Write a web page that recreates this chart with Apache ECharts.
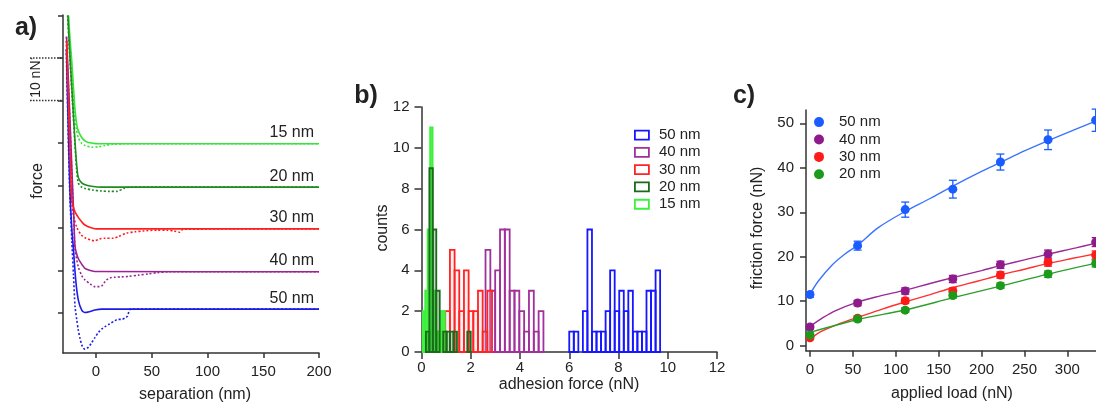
<!DOCTYPE html>
<html><head><meta charset="utf-8">
<script src="https://cdn.jsdelivr.net/npm/echarts@6/dist/echarts.min.js"></script>
<style>html,body{margin:0;padding:0;background:#fff}#c{width:1096px;height:405px}</style>
</head><body><div id="c"></div>
<script>
// ---------- Panel a: force curves (separation nm, force nN offset) ----------
const sepTicks = [0, 50, 100, 150, 200];
const forceTicks = [0, 10, 20, 30, 40, 50, 60, 70];
const curveNames = ['15 nm', '20 nm', '30 nm', '40 nm', '50 nm'];
const curveBaselines = [39.8, 29.6, 19.8, 9.7, 0.9];
const a15Approach = [[-24.6,70],[-23.2,64],[-21.8,59.5],[-20.2,53],[-18.8,47.8],[-17.2,44.2],[-15.5,42.6],[-12.8,41.3],[-9.9,40.5],[-6.9,40.1],[-2,39.9],[2,39.8],[200,39.8]];
const a15Retract = [[-25.0,70],[-23.6,64],[-22.2,59],[-20.6,52.5],[-19.2,47],[-17.5,43.2],[-15.9,41.2],[-12.8,39.9],[-9.9,39.4],[-3.9,39.0],[2.1,39.1],[8.1,39.4],[15,39.7],[25,39.8],[200,39.8]];
const a20Approach = [[-25.2,70],[-23.3,60],[-21,50],[-19,41],[-17.2,34.5],[-15.9,31.9],[-12.8,30.6],[-9,30.1],[-4,29.8],[5,29.6],[200,29.6]];
const a20Retract = [[-25.5,70],[-23.5,60],[-21.2,50],[-19.2,41],[-17.5,34],[-15.9,30.6],[-12.8,29.6],[-9.9,29.3],[-2.7,28.9],[5,28.7],[12,28.6],[18.8,28.6],[25,29.3],[30,29.6],[200,29.6]];
const a30Approach = [[-26.4,64],[-25,52],[-23.3,38],[-21.8,27],[-19.5,24.2],[-15.9,22.5],[-12,21.2],[-9.9,20.7],[-5,20.1],[0,19.8],[200,19.8]];
const a30Retract = [[-26.6,64],[-25.2,52],[-23.5,38],[-22,27],[-19.8,22.5],[-17,20],[-13,18.3],[-9,17.6],[-4,17.1],[-1,17.0],[3,17.4],[8,17.6],[15.5,17.6],[20,18],[27.5,18.8],[35,19.1],[42.4,19.3],[55,19.5],[63.4,19.5],[70,19.3],[75,19.0],[78,19.7],[200,19.8]];
const a40Approach = [[-26.4,65],[-24,50],[-21.5,33],[-19.8,22],[-18.8,15.6],[-16.5,13.2],[-14.3,12.1],[-9.9,10.5],[-5,10],[-0.9,9.75],[200,9.7]];
const a40Retract = [[-26.6,65],[-24.2,50],[-21.7,33],[-20,22],[-18.8,15],[-16,11],[-12.8,8.8],[-9.9,7.8],[-5,6.8],[-0.9,6.2],[3,6.2],[5.1,6.35],[7.5,7.2],[9.6,7.8],[13,8.3],[17,8.4],[23,8.5],[29,8.6],[38,8.9],[47,9.2],[55,9.5],[65,9.7],[200,9.7]];
const a50Approach = [[-26.5,62],[-25,45],[-23.3,28.2],[-21.5,19],[-20.4,15.6],[-18.2,7.8],[-15.9,3.1],[-12.8,0.7],[-9.9,0.1],[-6,0.3],[-0.9,0.7],[5,0.9],[200,0.9]];
const a50Retract = [[-26.7,62],[-25.2,45],[-23.5,28],[-21.7,17],[-20.2,9],[-18.8,1.5],[-17.3,-1.5],[-15.9,-4],[-14.3,-6],[-12.8,-7.5],[-11.3,-8.3],[-9.9,-8.5],[-7,-8.1],[-3.9,-7.0],[-1,-5.8],[2.1,-4.6],[5,-3.8],[8.1,-3.2],[12,-2.6],[17,-1.8],[20,-1.5],[23,-1.5],[26,-1.2],[28,-0.8],[29.5,0.3],[31,0.9],[200,0.9]];

// ---------- Panel b: adhesion histograms (bin start, bin width, counts) ----------
const histLabels = ['50 nm', '40 nm', '30 nm', '20 nm', '15 nm'];
const hist50 = { start: 6.0, width: 0.1845, counts: [1,1,0,2,6,1,1,1,2,4,2,3,2,3,1,1,1,3,3,4] };
const hist40 = { start: 2.6, width: 0.196, counts: [5,3,4,6,6,3,3,2,1,3,1,2] };
const hist30 = { start: 0.584, width: 0.19, counts: [1,1,2,5,4,2,4,2,2,3,1,3] };
const hist20 = { start: 0.18, width: 0.14, counts: [1,9,6,3,0,1,1,1,1,0,0,0,1] };
const hist15 = { start: 0.05, width: 0.1, counts: [2,3,6,11,3,1,1,2,2] };
const adhTicks = [0, 2, 4, 6, 8, 10, 12];

// ---------- Panel c: friction vs load ----------
const loads = [0, 55.5, 111, 166.5, 222, 277.5, 333];
const fric50 = [11.5, 22.5, 30.6, 35.2, 41.3, 46.3, 50.7];
const err50 = [0.6, 1.0, 1.7, 2.0, 1.8, 2.2, 2.5];
const fric40 = [4.2, 9.6, 12.3, 15.0, 18.2, 20.6, 23.3];
const err40 = [0.5, 0.6, 0.7, 0.8, 0.8, 0.9, 1.0];
const fric30 = [1.8, 6.2, 10.1, 12.3, 15.9, 18.7, 20.4];
const err30 = [0.4, 0.5, 0.6, 0.7, 0.7, 0.8, 0.9];
const fric20 = [2.4, 6.0, 8.0, 11.3, 13.5, 16.1, 18.5];
const err20 = [0.4, 0.5, 0.5, 0.6, 0.6, 0.7, 0.8];
const fit50 = [[0,11.6],[10,14.6],[25,18.0],[40,20.5],[55.5,22.6],[80,26.6],[111,30.2],[140,33.1],[166.5,35.9],[200,39.2],[222,41.2],[250,43.8],[277.5,46.1],[310,48.7],[334,50.6]];
const fit40 = [[0,4.3],[15,6.3],[30,7.9],[55.5,9.8],[80,11.1],[111,12.5],[140,14.0],[166.5,15.3],[200,16.9],[222,18.0],[250,19.3],[277.5,20.6],[310,22.0],[334,23.1]];
const fit30 = [[0,1.4],[12,3.1],[35,5.0],[56,6.4],[85,8.3],[112,9.9],[140,11.5],[167,13.1],[195,14.5],[222,15.9],[250,17.2],[277.5,18.5],[305,19.6],[334,20.7]];
const fit20 = [[0,3.0],[56,5.9],[112,8.1],[167,10.8],[222,13.4],[277.5,16.1],[334,18.6]];
const loadTicks = [0, 50, 100, 150, 200, 250, 300];
const fricTicks = [0, 10, 20, 30, 40, 50];

const FONT = 'Liberation Sans, Arial, sans-serif';
const TXT = '#222';
const AX = '#333';

const colA = { c15: '#3ae23a', c20: '#1f8a1f', c30: '#ff1f1f', c40: '#9a2592', c50: '#1c1ce8' };
const colB = { b50: '#1616ff', b40: '#a0309c', b30: '#ff2424', b20: '#1a6a1a', b15: '#3cf03c' };
const fillB = { b50: 'rgba(255,255,255,0)', b40: 'rgba(255,255,255,0)', b30: 'rgba(255,200,200,0.25)', b20: 'rgba(26,106,26,0.25)', b15: 'rgba(60,240,60,0.85)' };
const colC = { c50: '#1a5cff', c40: '#8e1a8c', c30: '#ff1a1a', c20: '#1c9a1c' };
const lineC = { c50: '#3a74ff', c40: '#9a2a98', c30: '#ff3030', c20: '#2aa02a' };

function axisBase(extra) {
  return Object.assign({
    type: 'value',
    splitLine: { show: false },
    axisLine: { show: true, onZero: false, lineStyle: { color: AX, width: 1.5 } },
    axisTick: { show: true, inside: false, length: 6, lineStyle: { color: AX, width: 1.5 } },
    axisLabel: { color: TXT, fontSize: 15, fontFamily: FONT }
  }, extra);
}

function lineSeries(name, data, color, dotted) {
  return {
    type: 'line', name: name, xAxisIndex: 0, yAxisIndex: 0, data: data,
    showSymbol: false, symbol: 'none', smooth: 0.25, silent: true,
    lineStyle: { color: color, width: 1.6, type: dotted ? [2, 2] : 'solid' },
    z: dotted ? 3 : 4
  };
}

function histData(h) {
  const out = [];
  h.counts.forEach((c, i) => { if (c > 0) out.push([h.start + i * h.width, h.start + (i + 1) * h.width, c]); });
  return out;
}
function histSeries(name, h, color, fill, z) {
  return {
    type: 'custom', name: name, xAxisIndex: 1, yAxisIndex: 1, data: histData(h), z: z,
    itemStyle: { color: 'transparent', borderColor: color, borderWidth: 1.8 },
    renderItem: function (params, api) {
      const p0 = api.coord([api.value(0), 0]);
      const p1 = api.coord([api.value(1), api.value(2)]);
      return { type: 'rect', shape: { x: p0[0], y: p1[1], width: p1[0] - p0[0], height: p0[1] - p1[1] },
        style: { fill: fill, stroke: color, lineWidth: 1.8 } };
    }
  };
}

function errSeries(name, ys, errs, color) {
  return {
    type: 'custom', name: name + 'err', xAxisIndex: 2, yAxisIndex: 2, z: 5, silent: true,
    data: loads.map((x, i) => [x, ys[i], errs[i]]),
    renderItem: function (params, api) {
      const x = api.value(0), y = api.value(1), e = api.value(2);
      const hi = api.coord([x, y + e]), lo = api.coord([x, y - e]);
      const w = 4;
      return { type: 'group', children: [
        { type: 'line', shape: { x1: hi[0], y1: hi[1], x2: lo[0], y2: lo[1] }, style: { stroke: color, lineWidth: 1.3 } },
        { type: 'line', shape: { x1: hi[0] - w, y1: hi[1], x2: hi[0] + w, y2: hi[1] }, style: { stroke: color, lineWidth: 1.3 } },
        { type: 'line', shape: { x1: lo[0] - w, y1: lo[1], x2: lo[0] + w, y2: lo[1] }, style: { stroke: color, lineWidth: 1.3 } }
      ] };
    }
  };
}
function pointSeries(name, ys, color) {
  return { type: 'scatter', name: name, xAxisIndex: 2, yAxisIndex: 2, z: 6, silent: true,
    data: loads.map((x, i) => [x, ys[i]]), symbol: 'circle', symbolSize: 9,
    itemStyle: { color: color, opacity: 1 }, clip: false };
}
function fitSeries(name, data, color) {
  return { type: 'line', name: name + 'fit', xAxisIndex: 2, yAxisIndex: 2, z: 4, silent: true,
    data: data, showSymbol: false, symbol: 'none', smooth: 0.35,
    lineStyle: { color: color, width: 1.4 } };
}

const legendFmt = n => n.slice(1) + ' nm';

const option = {
  animation: false,
  backgroundColor: '#fff',
  textStyle: { fontFamily: FONT },
  grid: [
    { left: 63, top: 15, width: 256, height: 338 },
    { left: 421.5, top: 107, width: 295.5, height: 245 },
    { left: 806, top: 110, right: 0, height: 240.7 }
  ],
  xAxis: [
    axisBase({ gridIndex: 0, min: -29.6, max: 200,
      axisTick: { show: true, length: 5, customValues: sepTicks, lineStyle: { color: AX, width: 1.5 } },
      axisLabel: { color: TXT, fontSize: 15, fontFamily: FONT, margin: 11, customValues: sepTicks } }),
    axisBase({ gridIndex: 1, min: 0, max: 12, interval: 2,
      axisTick: { show: true, length: 7, lineStyle: { color: AX, width: 1.5 } },
      axisLabel: { color: TXT, fontSize: 15, fontFamily: FONT, margin: 8, showMaxLabel: true, showMinLabel: true } }),
    axisBase({ gridIndex: 2, min: -4.66, max: 333.4,
      axisTick: { show: true, length: 6, customValues: loadTicks, lineStyle: { color: AX, width: 1.5 } },
      axisLabel: { color: TXT, fontSize: 15, fontFamily: FONT, margin: 12, customValues: loadTicks } })
  ],
  yAxis: [
    axisBase({ gridIndex: 0, min: -9.41, max: 70.1,
      axisTick: { show: true, length: 5, customValues: forceTicks, lineStyle: { color: AX, width: 1.5 } },
      axisLabel: { show: false } }),
    axisBase({ gridIndex: 1, min: 0, max: 12, interval: 2,
      axisTick: { show: true, length: 7, lineStyle: { color: AX, width: 1.5 } },
      axisLabel: { color: TXT, fontSize: 15, fontFamily: FONT, margin: 12 } }),
    axisBase({ gridIndex: 2, min: -1.12, max: 53,
      axisTick: { show: true, length: 6, customValues: fricTicks, lineStyle: { color: AX, width: 1.5 } },
      axisLabel: { color: TXT, fontSize: 15, fontFamily: FONT, margin: 12, customValues: fricTicks } })
  ],
  legend: [
    { orient: 'vertical', left: 629, top: 121.4, itemWidth: 14, itemHeight: 9, itemGap: 0,
      selectedMode: false, formatter: legendFmt,
      textStyle: { color: TXT, fontSize: 15, fontFamily: FONT, lineHeight: 17.3, padding: [0, 0, 0, 5] },
      data: ['b50', 'b40', 'b30', 'b20', 'b15'].map(n => ({ name: n, icon: 'rect',
        itemStyle: { color: 'rgba(255,255,255,0)', borderColor: colB[n], borderWidth: 1.8 } })) },
    { orient: 'vertical', left: 809, top: 108.4, itemWidth: 30, itemHeight: 10, itemGap: 0,
      selectedMode: false, formatter: legendFmt,
      textStyle: { color: TXT, fontSize: 15, fontFamily: FONT, lineHeight: 17.4 },
      data: ['c50', 'c40', 'c30', 'c20'].map(n => ({ name: n, icon: 'circle', itemStyle: { color: colC[n] } })) }
  ],
  series: [
    lineSeries('a15r', a15Retract, colA.c15, true),
    lineSeries('a15', a15Approach, colA.c15, false),
    lineSeries('a20r', a20Retract, colA.c20, true),
    lineSeries('a20', a20Approach, colA.c20, false),
    lineSeries('a50r', a50Retract, colA.c50, true),
    lineSeries('a50', a50Approach, colA.c50, false),
    lineSeries('a40r', a40Retract, colA.c40, true),
    lineSeries('a40', a40Approach, colA.c40, false),
    lineSeries('a30r', a30Retract, colA.c30, true),
    lineSeries('a30', a30Approach, colA.c30, false),
    histSeries('b50', hist50, colB.b50, fillB.b50, 2),
    histSeries('b40', hist40, colB.b40, fillB.b40, 2),
    histSeries('b30', hist30, colB.b30, fillB.b30, 3),
    histSeries('b15', hist15, colB.b15, fillB.b15, 4),
    histSeries('b20', hist20, colB.b20, fillB.b20, 5),
    fitSeries('c50', fit50, lineC.c50),
    fitSeries('c40', fit40, lineC.c40),
    fitSeries('c30', fit30, lineC.c30),
    fitSeries('c20', fit20, lineC.c20),
    errSeries('c50', fric50, err50, colC.c50),
    errSeries('c40', fric40, err40, colC.c40),
    errSeries('c30', fric30, err30, colC.c30),
    errSeries('c20', fric20, err20, colC.c20),
    pointSeries('c50', fric50, colC.c50),
    pointSeries('c40', fric40, colC.c40),
    pointSeries('c30', fric30, colC.c30),
    pointSeries('c20', fric20, colC.c20)
  ]
};

const chart = echarts.init(document.getElementById('c'), null, { renderer: 'canvas' });
chart.setOption(option);

// annotations positioned from the axes
const P = (g, v) => chart.convertToPixel({ gridIndex: g }, v);
const gfx = [];
function txt(x, y, s, o) {
  gfx.push(Object.assign({ type: 'text', x: x, y: y, z: 50,
    style: Object.assign({ text: s, fill: TXT, font: '16px ' + FONT, textAlign: 'center', textVerticalAlign: 'middle' }, o || {}) }));
}
// panel letters
txt(26, 28, 'a)', { font: 'bold 25px ' + FONT });
txt(366, 96, 'b)', { font: 'bold 25px ' + FONT });
txt(744, 96, 'c)', { font: 'bold 25px ' + FONT });
// axis titles
txt(195, 395, 'separation (nm)');
gfx.push({ type: 'text', x: 38, y: 181, rotation: Math.PI / 2, z: 50,
  style: { text: 'force', fill: TXT, font: '16px ' + FONT, textAlign: 'center', textVerticalAlign: 'middle' } });
txt(569, 385, 'adhesion force (nN)');
gfx.push({ type: 'text', x: 383, y: 228, rotation: Math.PI / 2, z: 50,
  style: { text: 'counts', fill: TXT, font: '16px ' + FONT, textAlign: 'center', textVerticalAlign: 'middle' } });
txt(952, 394, 'applied load (nN)');
gfx.push({ type: 'text', x: 758, y: 228, rotation: Math.PI / 2, z: 50,
  style: { text: 'friction force (nN)', fill: TXT, font: '16px ' + FONT, textAlign: 'center', textVerticalAlign: 'middle' } });
// curve labels in panel a
curveNames.forEach((n, i) => {
  const p = P(0, [195.5, curveBaselines[i]]);
  txt(p[0], p[1] - 11, n, { textAlign: 'right' });
});
// 10 nN scale bar
const yTop = P(0, [0, 60])[1], yBot = P(0, [0, 50])[1];
const dash = { stroke: AX, lineWidth: 1.5, lineDash: [1.5, 1.5] };
gfx.push({ type: 'line', z: 40, shape: { x1: 30, y1: yTop, x2: 62, y2: yTop }, style: dash });
gfx.push({ type: 'line', z: 40, shape: { x1: 30, y1: yBot, x2: 62, y2: yBot }, style: dash });
gfx.push({ type: 'line', z: 40, shape: { x1: 31.5, y1: yTop, x2: 31.5, y2: yBot }, style: dash });
gfx.push({ type: 'text', x: 36, y: (yTop + yBot) / 2, rotation: Math.PI / 2, z: 50,
  style: { text: '10 nN', fill: TXT, font: '14px ' + FONT, textAlign: 'center', textVerticalAlign: 'middle',
    backgroundColor: '#fff', padding: [0, 1] } });
chart.setOption({ graphic: gfx });
</script></body></html>
